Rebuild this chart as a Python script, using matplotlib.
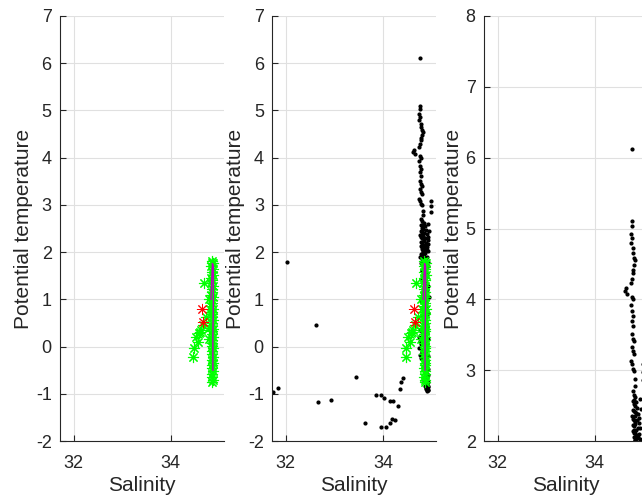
import matplotlib
matplotlib.use("Agg")
import matplotlib.pyplot as plt

plt.rcParams['font.family'] = ['Liberation Sans', 'DejaVu Sans']
plt.rcParams['axes.unicode_minus'] = False

# CTD profile: salinity / potential temperature (black dots)
black_sal = [
    31.74, 31.83, 32.02, 32.62, 32.66, 32.94, 33.44, 33.63, 33.85, 33.97,
    34.02, 33.96, 34.06, 34.15, 34.14, 34.18, 34.20, 34.24, 34.31, 34.36,
    34.38, 34.42,
    34.76, 34.77, 34.76, 34.74, 34.77, 34.75, 34.78, 34.79, 34.80, 34.82,
    34.81, 34.78, 34.79, 34.77, 34.74, 34.64, 34.62, 34.67, 34.76, 34.78,
    34.75, 34.76, 34.78, 34.76, 34.78, 34.77, 34.78, 34.81, 34.77, 34.78,
    34.80, 34.75, 34.77, 34.78, 34.81, 34.82, 34.99, 35.00, 35.00, 34.83,
    34.80, 34.84, 34.78, 34.86, 34.82, 34.88, 34.80, 34.85, 34.90, 34.83,
    34.79, 34.87, 34.92, 34.84, 34.81, 34.89, 34.86, 34.78, 34.83, 34.91,
    34.85, 34.80, 34.88, 34.94, 34.82, 34.87, 34.79, 34.84, 34.90, 34.86,
    34.81, 34.88, 34.83, 34.92, 34.85, 34.80, 34.87, 34.84, 34.89, 34.86,
    34.82, 34.88, 34.85, 34.90, 34.84, 34.87, 34.83, 34.89, 34.86, 34.88,
    34.85, 34.90, 34.87, 34.84, 34.89, 34.86, 34.91, 34.88, 34.85, 34.87,
    34.90, 34.86, 34.89, 34.84, 34.88, 34.91, 34.87, 34.89, 34.86, 34.90,
    34.74, 34.76, 34.78, 34.75, 34.80, 34.77, 34.79, 34.81, 34.88, 34.90,
    34.89, 34.91, 34.90, 34.92, 34.89, 34.91, 34.90, 34.92, 34.91, 34.90,
    34.93, 34.80, 34.95, 34.82, 34.77, 34.92, 34.84, 34.79, 34.94, 34.81,
    34.90, 34.83, 34.76, 34.93, 34.85, 34.80, 34.91, 34.78, 34.86, 34.92,
    34.82, 34.95, 34.79, 34.88, 34.93, 34.81, 34.84, 34.91, 34.77, 34.87,
    34.92, 34.83, 34.89, 34.80, 34.93, 34.86, 34.91, 34.84, 34.92, 34.88,
    34.93, 34.89, 34.85, 34.92, 34.90, 34.87, 34.93, 34.91, 34.88, 34.92,
    34.78, 34.80, 34.79, 34.81, 34.80, 34.82, 34.81, 34.79,
]
black_temp = [
    -0.96, -0.88, 1.79, 0.45, -1.17, -1.13, -0.64, -1.62, -1.03, -1.03,
    -1.09, -1.71, -1.71, -1.16, -1.62, -1.54, -1.16, -1.56, -1.25, -0.90,
    -0.74, -0.67,
    6.12, 5.10, 5.03, 4.92, 4.87, 4.80, 4.72, 4.65, 4.58, 4.55,
    4.48, 4.42, 4.37, 4.28, 4.23, 4.16, 4.12, 4.08, 4.03, 4.00,
    3.92, 3.83, 3.76, 3.69, 3.62, 3.51, 3.44, 3.41, 3.33, 3.27,
    3.23, 3.13, 3.09, 3.02, 2.99, 2.88, 3.09, 2.97, 2.86, 2.78,
    2.65, 2.62, 2.57, 2.55, 2.50, 2.47, 2.43, 2.40, 2.38, 2.35,
    2.31, 2.29, 2.26, 2.24, 2.21, 2.19, 2.16, 2.14, 2.12, 2.10,
    2.08, 2.06, 2.04, 2.03, 2.01, 1.98, 1.95, 1.92, 1.89, 1.85,
    1.82, 1.78, 1.74, 1.70, 1.66, 1.62, 1.57, 1.52, 1.47, 1.42,
    1.37, 1.31, 1.25, 1.19, 1.13, 1.07, 1.01, 0.95, 0.88, 0.82,
    0.75, 0.68, 0.61, 0.54, 0.47, 0.40, 0.33, 0.26, 0.19, 0.12,
    0.05, -0.02, -0.09, -0.16, -0.23, -0.30, -0.37, -0.44, -0.51, -0.58,
    0.20, 0.12, 0.05, -0.02, -0.10, -0.17, -0.24, 0.30, -0.65, -0.70,
    -0.74, -0.78, -0.81, -0.84, -0.87, -0.89, -0.91, -0.93, -0.95, -0.62,
    2.60, 2.52, 2.45, 2.41, 2.36, 2.33, 2.27, 2.22, 2.18, 2.11,
    2.05, 1.96, 1.90, 1.80, 1.72, 1.60, 1.55, 1.44, 1.35, 1.28,
    1.15, 1.05, 0.97, 0.86, 0.72, 0.64, 0.50, 0.42, 0.36, 0.23,
    0.15, 0.08, -0.05, -0.12, -0.20, -0.27, -0.35, -0.42, -0.48, -0.55,
    -0.60, -0.66, -0.72, -0.76, -0.80, -0.83, -0.86, -0.88, -0.90, -0.92,
    2.70, 2.58, 2.44, 2.30, 2.15, 2.02, 1.88, 1.76,
]

# bottle samples (green asterisks)
green_sal = [
    34.85, 34.86, 34.84, 34.87, 34.85, 34.88, 34.84, 34.86, 34.83, 34.87,
    34.85, 34.86, 34.84, 34.87, 34.85, 34.86, 34.84, 34.88, 34.85, 34.86,
    34.85, 34.87, 34.86, 34.85, 34.87, 34.86, 34.85, 34.87, 34.86, 34.85,
    34.86, 34.87, 34.86, 34.85, 34.87, 34.86, 34.87, 34.86, 34.85, 34.87,
    34.86, 34.85, 34.87, 34.86, 34.88,
    34.69, 34.72, 34.62, 34.66, 34.58, 34.52, 34.56, 34.60, 34.48, 34.47,
    34.79, 34.81, 34.80, 34.78,
]
green_temp = [
    1.82, 1.76, 1.70, 1.64, 1.58, 1.52, 1.46, 1.40, 1.34, 1.28,
    1.22, 1.16, 1.10, 1.04, 0.98, 0.92, 0.86, 0.80, 0.74, 0.68,
    0.62, 0.56, 0.50, 0.44, 0.38, 0.32, 0.26, 0.20, 0.14, 0.08,
    0.02, -0.04, -0.10, -0.16, -0.22, -0.28, -0.34, -0.40, -0.46, -0.52,
    -0.58, -0.64, -0.70, -0.74, 1.78,
    1.34, 0.63, 0.35, 0.45, 0.28, 0.21, 0.10, 0.30, -0.04, -0.23,
    1.00, 0.80, 0.40, 0.15,
]

red_sal = [34.65, 34.67]
red_temp = [0.79, 0.51]

# mean profile (magenta line)
mag_sal = [34.83, 34.86, 34.88, 34.88, 34.87, 34.87]
mag_temp = [1.00, 1.76, 1.70, 1.00, 0.20, -0.50]

fig = plt.figure(figsize=(6.42, 5.0), dpi=100)

bottom, height = 0.118, 0.85
width = 0.2555
lefts = [0.0935, 0.424, 0.754]
ylims = [(-2, 7), (-2, 7), (2, 8)]
axc = (0.15, 0.15, 0.15)
star = (8, 2, 0)  # asterisk marker

for i, left in enumerate(lefts):
    ax = fig.add_axes([left, bottom, width, height])
    if i >= 1:
        ax.plot(black_sal, black_temp, 'k.', markersize=4, zorder=2)
    if i <= 1:
        ax.plot(green_sal, green_temp, marker=star, linestyle='none',
                color=(0, 1, 0), markersize=8, markeredgewidth=0.8, zorder=3)
        ax.plot(mag_sal, mag_temp, '-', color='m', linewidth=1, zorder=4)
        ax.plot(red_sal, red_temp, marker=star, linestyle='none', color='r',
                markersize=8, markeredgewidth=0.7, zorder=5)
    ax.set_xlim(31.72, 35.1)
    ax.set_ylim(*ylims[i])
    ax.set_xticks([32, 34])
    ax.set_yticks(range(ylims[i][0], ylims[i][1] + 1))
    ax.grid(True, color=(0.88, 0.88, 0.88), linewidth=0.8)
    ax.set_axisbelow(True)
    for side in ['top', 'right']:
        ax.spines[side].set_visible(False)
    for side in ['left', 'bottom']:
        ax.spines[side].set_color(axc)
        ax.spines[side].set_linewidth(0.8)
    ax.tick_params(direction='in', length=4, width=0.8, color=axc,
                   labelcolor=axc, labelsize=13)
    ax.tick_params(axis='x', pad=10)
    ax.tick_params(axis='y', pad=6)
    ax.set_xlabel('Salinity', fontsize=15, color=axc, labelpad=3)
    ax.set_ylabel('Potential temperature', fontsize=15, color=axc, labelpad=2)

fig.savefig('out.png', dpi=100)
